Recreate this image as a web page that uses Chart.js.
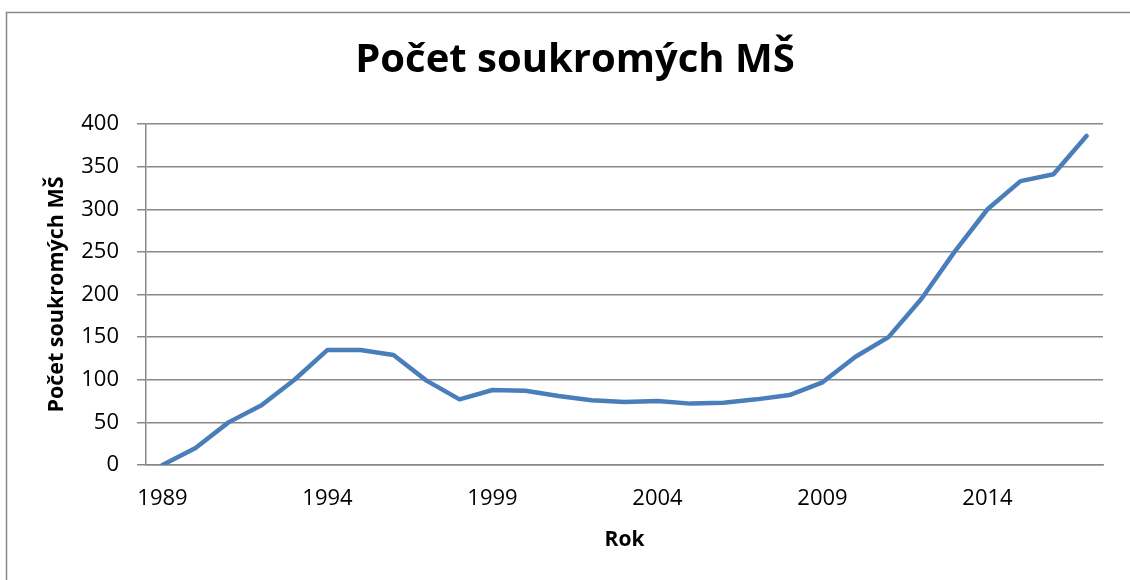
<!DOCTYPE html>
<html>
<head>
<meta charset="utf-8">
<script src="https://cdn.jsdelivr.net/npm/chart.js@4"></script>
<style>
  html, body { margin: 0; padding: 0; background: #ffffff; }
  #wrap { width: 1130px; height: 580px; position: relative; }
</style>
</head>
<body>
<div id="wrap"><canvas id="c" width="1130" height="580"></canvas></div>
<script>
const chartTitle = "Počet soukromých MŠ";
const yAxisTitle = "Počet soukromých MŠ";
const xAxisTitle = "Rok";
const years = ["1989","1990","1991","1992","1993","1994","1995","1996","1997","1998",
               "1999","2000","2001","2002","2003","2004","2005","2006","2007","2008",
               "2009","2010","2011","2012","2013","2014","2015","2016","2017"];
const schoolCounts = [0, 20, 50, 70, 100, 135, 135, 129, 99, 77,
                      88, 87, 81, 76, 74, 75, 72, 73, 77, 82,
                      97, 127, 150, 195, 250, 300, 333, 341, 386];
const yTicks = [0, 50, 100, 150, 200, 250, 300, 350, 400];
const xLabelEvery = 5;

const FONT = "'Open Sans', 'DejaVu Sans', sans-serif";
const GRID = '#888888';

const outerBorder = {
  id: 'outerBorder',
  beforeDraw(chart) {
    const ctx = chart.ctx;
    ctx.save();
    ctx.fillStyle = '#ffffff';
    ctx.fillRect(0, 0, chart.width, chart.height);
    ctx.strokeStyle = '#888888';
    ctx.lineWidth = 1.5;
    ctx.strokeRect(6.5, 12.5, chart.width + 20, chart.height + 20);
    ctx.restore();
  },
  afterDraw(chart) {
    const ctx = chart.ctx;
    ctx.save();
    ctx.fillStyle = '#000000';
    ctx.font = "bold 40px " + FONT;
    ctx.textAlign = 'center';
    ctx.textBaseline = 'alphabetic';
    ctx.fillText(chartTitle, 575, 72);
    ctx.restore();
  }
};

new Chart(document.getElementById('c'), {
  type: 'line',
  data: {
    labels: years,
    datasets: [{
      label: yAxisTitle,
      data: schoolCounts,
      borderColor: '#4A7EBB',
      borderWidth: 4.5,
      pointRadius: 0,
      pointHoverRadius: 0,
      tension: 0,
      borderJoinStyle: 'round',
      borderCapStyle: 'round',
      fill: false
    }]
  },
  options: {
    responsive: false,
    animation: false,
    devicePixelRatio: 1,
    layout: { padding: { top: 124, left: 20, right: 27, bottom: 0 } },
    plugins: {
      legend: { display: false },
      tooltip: { enabled: false },
      title: { display: false }
    },
    scales: {
      x: {
        type: 'category',
        offset: true,
        grid: { display: false, drawTicks: false },
        border: { display: true, color: GRID, width: 1.5 },
        ticks: {
          autoSkip: false,
          maxRotation: 0,
          minRotation: 0,
          padding: 21,
          color: '#000000',
          font: { family: FONT, size: 22 },
          callback: function(value, index) {
            return index % xLabelEvery === 0 ? years[index] : '';
          }
        },
        title: {
          display: true,
          text: xAxisTitle,
          color: '#000000',
          font: { family: FONT, size: 21, weight: 'bold', lineHeight: 1.2 },
          padding: { top: 0, bottom: 27.4 }
        },
        afterFit(scale) { scale.height = 580 - 465; }
      },
      y: {
        type: 'linear',
        min: 0,
        max: 400,
        afterBuildTicks(scale) { scale.ticks = yTicks.map(v => ({ value: v })); },
        grid: { display: true, color: GRID, lineWidth: 1.5, drawTicks: true, tickLength: 9, tickColor: GRID },
        border: { display: true, color: GRID, width: 1.5 },
        ticks: {
          padding: 18,
          color: '#000000',
          font: { family: FONT, size: 22 }
        },
        title: {
          display: true,
          text: yAxisTitle,
          color: '#000000',
          font: { family: FONT, size: 21.5, weight: 'bold', lineHeight: 1.2 },
          padding: { top: 23.5, bottom: 0 }
        },
        afterFit(scale) { scale.width = 146 - 20; }
      }
    }
  },
  plugins: [outerBorder]
});
</script>
</body>
</html>
